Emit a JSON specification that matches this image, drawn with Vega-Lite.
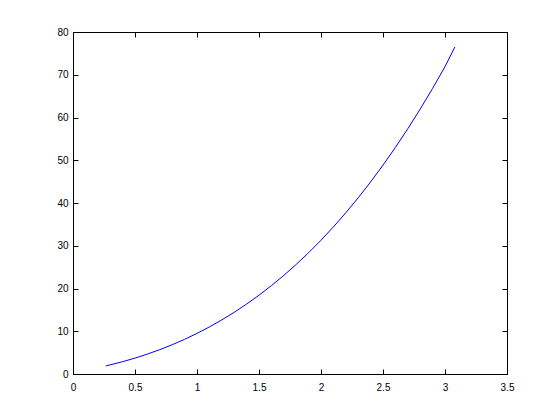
{
  "$schema": "https://vega.github.io/schema/vega-lite/v6.json",
  "width": 434,
  "height": 342,
  "autosize": {"type": "none"},
  "padding": {"left": 73, "top": 32, "right": 53, "bottom": 46},
  "background": "white",
  "config": {
    "view": {"stroke": "black", "strokeWidth": 1},
    "axis": {
      "grid": false,
      "domainColor": "black",
      "tickColor": "black",
      "labelColor": "black",
      "labelFont": "Liberation Sans",
      "labelFontSize": 10,
      "tickSize": -5,
      "title": null,
      "format": "~r"
    }
  },
  "data": {
    "values": [
      {"x": 0.264, "y": 1.87},
      {"x": 0.4, "y": 2.88},
      {"x": 0.5, "y": 3.72},
      {"x": 0.6, "y": 4.66},
      {"x": 0.7, "y": 5.70},
      {"x": 0.8, "y": 6.85},
      {"x": 0.9, "y": 8.11},
      {"x": 1.0, "y": 9.50},
      {"x": 1.1, "y": 11.01},
      {"x": 1.2, "y": 12.65},
      {"x": 1.3, "y": 14.43},
      {"x": 1.4, "y": 16.36},
      {"x": 1.5, "y": 18.43},
      {"x": 1.6, "y": 20.67},
      {"x": 1.7, "y": 23.06},
      {"x": 1.8, "y": 25.63},
      {"x": 1.9, "y": 28.37},
      {"x": 2.0, "y": 31.29},
      {"x": 2.1, "y": 34.41},
      {"x": 2.2, "y": 37.71},
      {"x": 2.3, "y": 41.22},
      {"x": 2.4, "y": 44.93},
      {"x": 2.5, "y": 48.86},
      {"x": 2.6, "y": 53.00},
      {"x": 2.7, "y": 57.37},
      {"x": 2.8, "y": 61.97},
      {"x": 2.9, "y": 66.81},
      {"x": 3.0, "y": 71.89},
      {"x": 3.08, "y": 76.5}
    ]
  },
  "layer": [
    {
      "mark": {"type": "line", "color": "#0000ff", "strokeWidth": 1, "clip": true},
      "encoding": {
        "x": {
          "field": "x", "type": "quantitative",
          "scale": {"domain": [0, 3.5], "nice": false, "zero": false},
          "axis": {"orient": "bottom", "values": [0, 0.5, 1, 1.5, 2, 2.5, 3, 3.5], "labelPadding": 13, "labelFlush": false}
        },
        "y": {
          "field": "y", "type": "quantitative",
          "scale": {"domain": [0, 80], "nice": false},
          "axis": {"orient": "left", "values": [0, 10, 20, 30, 40, 50, 60, 70, 80], "labelPadding": 10, "labelFlush": false}
        }
      }
    },
    {
      "mark": {"type": "line", "opacity": 0},
      "encoding": {
        "x": {
          "field": "x", "type": "quantitative",
          "axis": {"orient": "top", "values": [0, 0.5, 1, 1.5, 2, 2.5, 3, 3.5], "labels": false}
        },
        "y": {
          "field": "y", "type": "quantitative",
          "axis": {"orient": "right", "values": [0, 10, 20, 30, 40, 50, 60, 70, 80], "labels": false}
        }
      }
    }
  ],
  "resolve": {"axis": {"x": "independent", "y": "independent"}}
}
